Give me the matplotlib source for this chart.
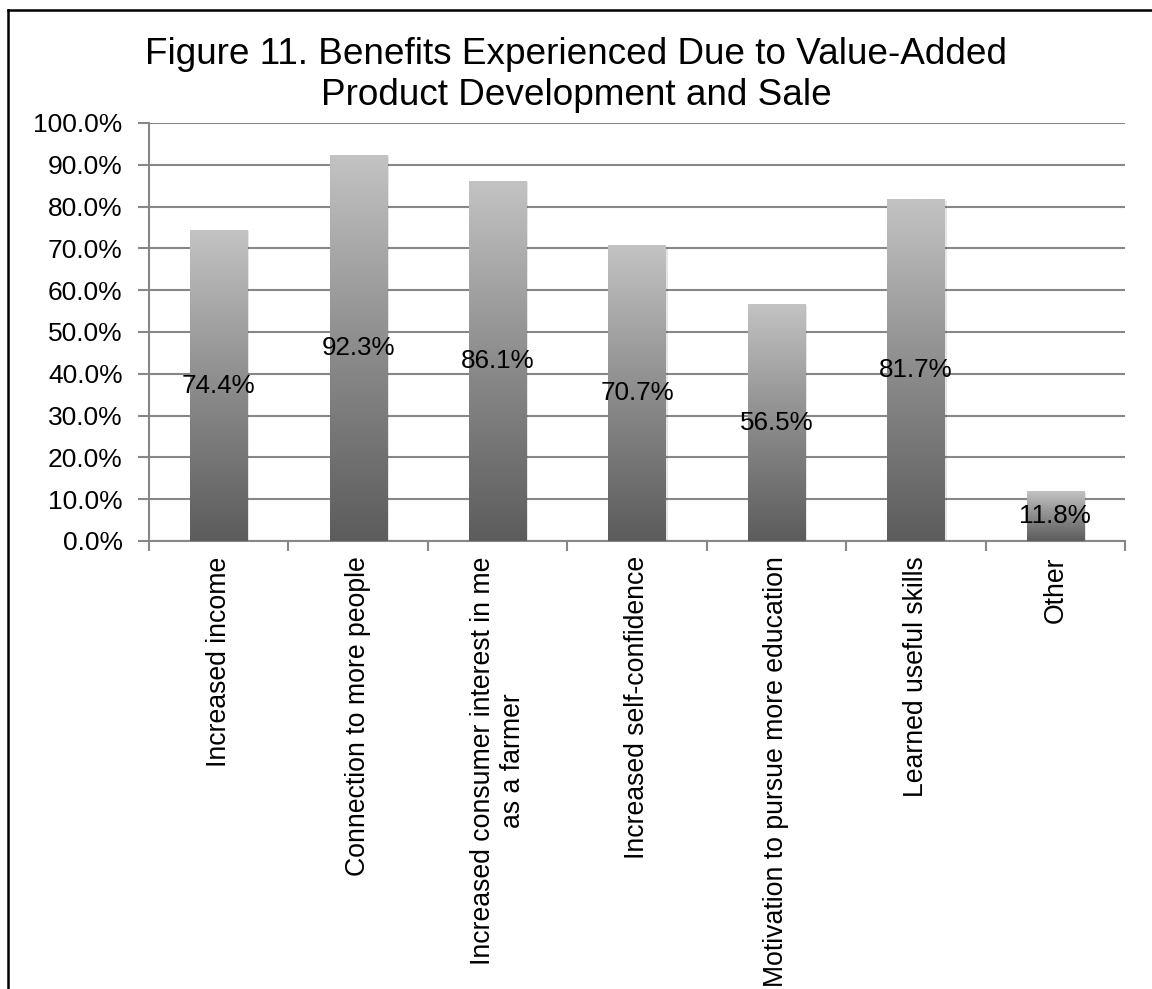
import numpy as np
import matplotlib
matplotlib.use("Agg")
import matplotlib.pyplot as plt
from matplotlib.colors import LinearSegmentedColormap
from matplotlib.patches import Rectangle
from matplotlib.lines import Line2D

categories = [
    "Increased income",
    "Connection to more people",
    "Increased consumer interest in me\nas a farmer",
    "Increased self-confidence",
    "Motivation to pursue more education",
    "Learned useful skills",
    "Other",
]
values = [74.4, 92.3, 86.1, 70.7, 56.5, 81.7, 11.8]
yticks = [0, 10, 20, 30, 40, 50, 60, 70, 80, 90, 100]
title_lines = ["Figure 11. Benefits Experienced Due to Value-Added",
               "Product Development and Sale"]

plt.rcParams['font.family'] = ['Liberation Sans', 'DejaVu Sans']

W, H = 1152, 989
fig = plt.figure(figsize=(W / 100, H / 100), dpi=100)
ax = fig.add_axes([149 / W, 1 - 541 / H, (1125 - 149) / W, (541 - 123) / H])

grid_c = "#878787"
x = np.arange(len(categories))
bars = ax.bar(x, values, width=0.41, facecolor="none", edgecolor="none", zorder=3)

cmap = LinearSegmentedColormap.from_list("g", ["#5c5c5c", "#8c8c8c", "#c3c3c3"])
grad = np.linspace(0, 1, 256).reshape(-1, 1)
for b in bars:
    x0, w, h = b.get_x(), b.get_width(), b.get_height()
    # soft shadow
    ax.add_patch(Rectangle((x0 + 0.015, 0), w, h - 0.3, facecolor="#000000",
                           alpha=0.10, edgecolor="none", zorder=2))
    ax.imshow(grad, extent=(x0, x0 + w, 0, h), origin="lower", cmap=cmap,
              aspect="auto", zorder=3, interpolation="bilinear")
    ax.text(x0 + w / 2, h / 2, f"{h:.1f}%", ha="center", va="center",
            fontsize=18.7, color="black", zorder=5)

ax.set_xlim(-0.5, len(categories) - 0.5)
ax.set_ylim(0, 100)
ax.set_yticks(yticks)
ax.set_yticklabels([f"{v:.1f}%" for v in yticks])
ax.yaxis.grid(True, color=grid_c, linewidth=1.5, zorder=0)
ax.set_axisbelow(True)

ax.set_xticks(x)
ax.set_xticklabels(categories, rotation=90, ha="center", va="top",
                   multialignment="center")
ax.set_xticks(np.arange(-0.5, len(categories), 1), minor=True)
ax.tick_params(axis="x", which="major", length=0, pad=11, labelsize=19.2)
ax.tick_params(axis="x", which="minor", length=7, width=1.5, color=grid_c)
ax.tick_params(axis="y", length=8, width=1.5, color=grid_c, pad=11, labelsize=19)

for s in ["top", "right"]:
    ax.spines[s].set_visible(False)
for s in ["left", "bottom"]:
    ax.spines[s].set_color(grid_c)
    ax.spines[s].set_linewidth(1.5)

fig.text(0.5, 1 - 64 / H, title_lines[0], ha="center", va="baseline", fontsize=26.6)
fig.text(0.5, 1 - 105 / H, title_lines[1], ha="center", va="baseline", fontsize=26.6)

# outer frame: only left and top edges fall inside the picture
fx, fy = 7.5 / W, 1 - 9.5 / H
fig.add_artist(Line2D([fx, fx], [0, fy], transform=fig.transFigure,
                      color="black", linewidth=1.8, solid_capstyle="projecting"))
fig.add_artist(Line2D([fx, 1], [fy, fy], transform=fig.transFigure,
                      color="black", linewidth=1.8, solid_capstyle="projecting"))

fig.savefig("out.png", dpi=100, facecolor="white")
